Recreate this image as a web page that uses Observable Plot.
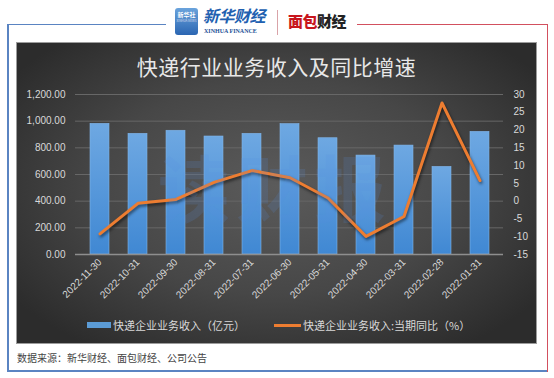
<!DOCTYPE html>
<html><head><meta charset="utf-8">
<script src="https://cdn.jsdelivr.net/npm/d3@7"></script>
<script src="https://cdn.jsdelivr.net/npm/@observablehq/plot@0.6"></script>
<style>
body{margin:0;width:554px;height:378px;background:#fff;position:relative;overflow:hidden;font-family:"Noto Sans CJK SC","Noto Sans",sans-serif;}
.abs{position:absolute;}
#panel{left:16px;top:42px;width:521px;height:302px;box-sizing:border-box;border:1px solid #9c9c9c;
  background:radial-gradient(ellipse 62% 65% at 50% 48%, #5b5b5b 0%, #474747 55%, #2c2c2c 100%);}
#title{left:16px;top:52px;width:521px;text-align:center;font-size:21px;line-height:28px;color:#e8e8e8;letter-spacing:0.5px;}
#chart{left:16px;top:80px;}
.leg{top:318px;font-size:11px;line-height:14px;color:#d9d9d9;white-space:nowrap;}
#wm{left:158px;top:140px;font-size:72px;line-height:90px;color:rgba(85,145,225,0.16);letter-spacing:6px;font-weight:bold;}
#src{left:17px;top:350px;font-size:10px;line-height:15px;color:#444;white-space:nowrap;}
</style>
</head><body>
<div class="abs" style="left:7px;top:23.5px;width:159px;height:1.5px;background:#5a84c2"></div>
<div class="abs" style="left:357px;top:23.5px;width:191px;height:1.5px;background:#d2505e"></div>
<div class="abs" style="left:7px;top:23.5px;width:1.5px;height:348px;background:#5a84c2"></div>
<div class="abs" style="left:7px;top:370px;width:541px;height:1.5px;background:#5a84c2"></div>
<div class="abs" style="left:546.5px;top:23.5px;width:1.5px;height:348px;background:#d2505e"></div>

<div class="abs" style="left:175px;top:8px;width:23px;height:27px;border-radius:3px;background:linear-gradient(#6aa3dc,#2b66b2);"></div>
<div class="abs" style="left:176px;top:11px;width:21px;font-size:6px;line-height:7px;color:#fff;text-align:center;font-weight:bold;">新华社</div>
<div class="abs" style="left:176px;top:19px;width:21px;font-size:3px;line-height:4px;color:#dde;text-align:center;">XINHUA NEWS</div>
<div class="abs" style="left:203px;top:4px;font-size:16px;line-height:22px;color:#2160b0;font-style:italic;font-weight:bold;letter-spacing:-0.5px;">新华财经</div>
<div class="abs" style="left:204px;top:27px;font-size:6px;line-height:8px;color:#234f96;font-family:'Liberation Serif',serif;font-weight:bold;">XINHUA FINANCE</div>
<div class="abs" style="left:277px;top:10px;width:1px;height:25px;background:#d9a3a8"></div>
<div class="abs" style="left:288px;top:10px;font-size:15px;line-height:22px;font-weight:900;letter-spacing:-0.5px;"><span style="color:#c8161d">面包</span><span style="color:#222">财经</span></div>

<div id="panel" class="abs"></div>
<div id="title" class="abs">快递行业业务收入及同比增速</div>
<div id="chart" class="abs"></div>
<div id="wm" class="abs">读财报</div>

<div class="abs" style="left:87px;top:322px;width:24px;height:6px;background:#5b9bd5"></div>
<div class="abs leg" style="left:113px;">快递企业业务收入（亿元）</div>
<div class="abs" style="left:274px;top:324px;width:27px;height:3px;background:#ed7d31"></div>
<div class="abs leg" style="left:303px;">快递企业业务收入:当期同比（%）</div>

<div id="src" class="abs">数据来源：新华财经、面包财经、公司公告</div>

<script>
const categories = ["2022-11-30","2022-10-31","2022-09-30","2022-08-31","2022-07-31","2022-06-30","2022-05-31","2022-04-30","2022-03-31","2022-02-28","2022-01-31"];
const revenue = [980, 905, 928, 885, 905, 978, 872, 742, 817, 657, 920];
const yoy = [-9.2, -0.6, 0.5, 5.3, 8.6, 6.6, 0.9, -9.9, -4.3, 27.6, 5.8];
const leftTicks = [0, 200, 400, 600, 800, 1000, 1200];
const rightTicks = [-15, -10, -5, 0, 5, 10, 15, 20, 25, 30];

const toLeft = v => (v + 15) / 45 * 1200;
const fromLeft = d => String(Math.round(d / 1200 * 45 - 15));
const rows = categories.map((c, i) => ({date: c, revenue: revenue[i], yoyL: toLeft(yoy[i])}));

const chart = Plot.plot({
  width: 521, height: 235,
  marginLeft: 59, marginRight: 34, marginTop: 14, marginBottom: 61,
  style: {background: "transparent", color: "#d9d9d9", fontFamily: "'Liberation Sans', Arial, sans-serif", fontSize: "10px"},
  x: {type: "band", domain: categories, paddingInner: 0.5, paddingOuter: 0.25, label: null},
  y: {domain: [0, 1200], label: null},
  marks: [
    Plot.gridY(leftTicks, {stroke: "#676767", strokeOpacity: 1, strokeWidth: 1}),
    Plot.barY(rows, {x: "date", y: "revenue", fill: "url(#barGrad)", stroke: "#80b4e8", strokeWidth: 0.6}),
    Plot.ruleY([0], {stroke: "#8e8e8e", strokeWidth: 1.5}),
    Plot.line(rows, {x: "date", y: "yoyL", stroke: "#ed7d31", strokeWidth: 3}),
    Plot.axisY(leftTicks, {anchor: "left", tickSize: 0, tickPadding: 10, tickFormat: d3.format(",.2f"), label: null}),
    Plot.axisY(rightTicks.map(toLeft), {anchor: "right", tickSize: 0, tickPadding: 10, tickFormat: fromLeft, label: null}),
    Plot.axisX({tickRotate: -45, tickSize: 0, tickPadding: 6, label: null})
  ]
});

const svg = d3.select(chart);
const defs = svg.insert("defs", ":first-child");
const grad = defs.append("linearGradient").attr("id", "barGrad").attr("x1", 0).attr("y1", 0).attr("x2", 0).attr("y2", 1);
grad.append("stop").attr("offset", "0%").attr("stop-color", "#6ea8e2");
grad.append("stop").attr("offset", "100%").attr("stop-color", "#4088d3");
svg.selectAll("g[aria-label='line'] path").style("filter", "drop-shadow(1px 2px 1.5px rgba(0,0,0,0.55))");
document.getElementById("chart").appendChild(chart);
</script>
</body></html>
